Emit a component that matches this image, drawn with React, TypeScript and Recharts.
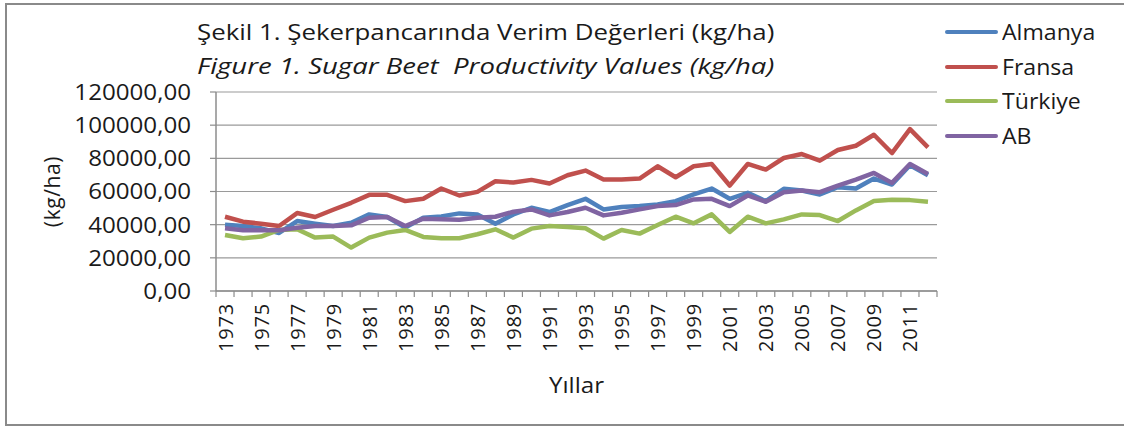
import React from "react";
import { LineChart, Line, XAxis, YAxis, CartesianGrid, Legend } from "recharts";

const years = [
  1973, 1974, 1975, 1976, 1977, 1978, 1979, 1980, 1981, 1982,
  1983, 1984, 1985, 1986, 1987, 1988, 1989, 1990, 1991, 1992,
  1993, 1994, 1995, 1996, 1997, 1998, 1999, 2000, 2001, 2002,
  2003, 2004, 2005, 2006, 2007, 2008, 2009, 2010, 2011, 2012,
];

const almanya = [
  40000, 39200, 37800, 35000, 42200, 40600, 39200, 41200, 46200, 44600,
  38200, 44200, 45000, 46800, 46200, 40600, 46200, 50200, 47600, 51800,
  55600, 49200, 50600, 51200, 52200, 54200, 58200, 61800, 55600, 59200,
  54200, 61600, 60600, 58200, 62600, 61800, 67800, 64200, 75800, 69800,
];

const fransa = [
  44800, 41800, 40600, 39200, 47000, 44600, 49000, 53200, 58000, 58000,
  54200, 55600, 61800, 57600, 59800, 66200, 65400, 67000, 64800, 69800,
  72600, 67200, 67200, 67800, 75200, 68600, 75200, 76600, 63600, 76600,
  73200, 80200, 82600, 78600, 85000, 87600, 94200, 83200, 97600, 86600,
];

const turkiye = [
  33800, 31800, 32800, 36800, 37200, 32200, 32800, 26200, 32200, 35200,
  36800, 32600, 31800, 31800, 34200, 37200, 32200, 37600, 39200, 38600,
  37800, 31600, 36800, 34600, 39800, 44800, 40800, 46200, 35600, 44800,
  40800, 43200, 46200, 45800, 42200, 48600, 54200, 55000, 54800, 53800,
];

const ab = [
  37800, 36600, 36600, 36600, 38200, 39200, 39200, 39600, 44200, 44600,
  39200, 43600, 43200, 43000, 44200, 44800, 47800, 49200, 45600, 47600,
  50200, 45600, 47200, 49200, 51200, 51800, 55200, 55600, 51200, 57600,
  53800, 59600, 60600, 59600, 63600, 67200, 71200, 65200, 76600, 70600,
];

const yTicks = [0, 20000, 40000, 60000, 80000, 100000, 120000];
const seriesNames = ["Almanya", "Fransa", "Türkiye", "AB"];
const seriesColors = ["#4F81BD", "#C0504D", "#9BBB59", "#8064A2"];
const titleLine1 = "Şekil 1. Şekerpancarında Verim Değerleri (kg/ha)";
const titleLine2 = "Figure 1. Sugar Beet  Productivity Values (kg/ha)";
const yAxisTitle = "(kg/ha)";
const xAxisTitle = "Yıllar";

const seriesValues = [almanya, fransa, turkiye, ab];
const data = years.map((y, i) => {
  const row: Record<string, number> = { year: y };
  seriesNames.forEach((n, k) => {
    row[n] = seriesValues[k][i];
  });
  return row;
});

const boundaryTicks = [...years.map((y) => y - 0.5), years[years.length - 1] + 0.5];
const labelYears = years.filter((_, i) => i % 2 === 0);
const xDomain = [years[0] - 0.5, years[years.length - 1] + 0.5];

const FONT = "'Open Sans', sans-serif";
const TEXT = "#1a1a1a";
const AXIS = "#8c8c8c";
const STRETCH = 1.15;

const fmt = (v: number) => v.toFixed(2).replace(".", ",");

const YearTick = (props: any) => {
  const { x, y, payload } = props;
  return (
    <text
      x={x}
      y={y}
      transform={`rotate(-90 ${x} ${y})`}
      textAnchor="end"
      dominantBaseline="central"
      fontFamily={FONT}
      fontSize={20}
      letterSpacing={0.8}
      fill={TEXT}
    >
      {payload.value}
    </text>
  );
};

const ValueTick = (props: any) => {
  const { x, y, payload } = props;
  return (
    <text
      x={x}
      y={y}
      transform={`translate(${x} ${y}) scale(${STRETCH} 1) translate(${-x} ${-y})`}
      textAnchor="end"
      dominantBaseline="central"
      fontFamily={FONT}
      fontSize={21}
      fill={TEXT}
    >
      {fmt(payload.value)}
    </text>
  );
};

const LegendContent = (props: any) => {
  const payload = [...(props.payload || [])].sort(
    (a: any, b: any) => seriesNames.indexOf(a.value) - seriesNames.indexOf(b.value)
  );
  return (
    <div>
      {payload.map((p: any) => (
        <div
          key={p.value}
          style={{ display: "flex", alignItems: "center", height: 34.5 }}
        >
          <div style={{ width: 53, height: 4, background: p.color, borderRadius: 2 }} />
          <span
            style={{
              marginLeft: 4,
              fontFamily: FONT,
              fontSize: 21,
              color: TEXT,
              lineHeight: "24px",
              display: "inline-block",
              transform: "scaleX(1.1)",
              transformOrigin: "left center",
              whiteSpace: "pre",
            }}
          >
            {p.value}
          </span>
        </div>
      ))}
    </div>
  );
};

const titleStyle: React.CSSProperties = {
  position: "absolute",
  left: 197,
  fontFamily: FONT,
  fontSize: 21,
  lineHeight: "26px",
  color: TEXT,
  whiteSpace: "pre",
  transformOrigin: "left center",
};

export default function App() {
  return (
    <div style={{ position: "absolute", left: 0, top: 0, width: 1124, height: 426, background: "#fff", overflow: "hidden" }}>
      <div
        style={{
          position: "absolute",
          left: 5,
          top: 3,
          width: 1130,
          height: 423,
          border: "2px solid #8a8a8a",
          boxSizing: "border-box",
        }}
      />
      <div style={{ ...titleStyle, top: 19, transform: "scaleX(1.23)" }}>{titleLine1}</div>
      <div style={{ ...titleStyle, top: 53, fontStyle: "italic", transform: "scaleX(1.31)" }}>{titleLine2}</div>
      <LineChart
        width={1124}
        height={426}
        data={data}
        margin={{ top: 92, right: 187, bottom: 0, left: 0 }}
        style={{ position: "absolute", left: 0, top: 0 }}
      >
        <CartesianGrid vertical={false} stroke="#9a9a9a" strokeWidth={1.2} />
        <XAxis
          xAxisId={0}
          dataKey="year"
          type="number"
          domain={xDomain}
          ticks={boundaryTicks}
          interval={0}
          allowDataOverflow
          tickFormatter={() => ""}
          tickSize={6}
          height={6}
          axisLine={{ stroke: AXIS, strokeWidth: 1.5 }}
          tickLine={{ stroke: AXIS, strokeWidth: 1.2 }}
        />
        <XAxis
          xAxisId="lab"
          dataKey="year"
          type="number"
          domain={xDomain}
          ticks={labelYears}
          interval={0}
          allowDataOverflow
          axisLine={false}
          tickLine={false}
          tickSize={0}
          tickMargin={6}
          height={129}
          tick={<YearTick />}
          label={{
            value: xAxisTitle,
            content: (p: any) => {
              const vb = p.viewBox || {};
              const cx = vb.x + vb.width / 2;
              const cy = vb.y + 88;
              return (
                <text
                  x={cx}
                  y={cy}
                  transform={`translate(${cx} ${cy}) scale(${STRETCH} 1) translate(${-cx} ${-cy})`}
                  textAnchor="middle"
                  dominantBaseline="central"
                  fontFamily={FONT}
                  fontSize={21}
                  fill={TEXT}
                >
                  {xAxisTitle}
                </text>
              );
            },
          }}
        />
        <YAxis
          domain={[0, 120000]}
          ticks={yTicks}
          interval={0}
          width={216}
          tickSize={6}
          tickMargin={19}
          axisLine={{ stroke: AXIS, strokeWidth: 1.5 }}
          tickLine={{ stroke: AXIS, strokeWidth: 1.2 }}
          tick={<ValueTick />}
          label={{
            value: yAxisTitle,
            content: (p: any) => {
              const vb = p.viewBox || {};
              const cx = vb.x + 52;
              const cy = vb.y + vb.height / 2;
              return (
                <text
                  x={cx}
                  y={cy}
                  transform={`rotate(-90 ${cx} ${cy})`}
                  textAnchor="middle"
                  dominantBaseline="central"
                  fontFamily={FONT}
                  fontSize={21}
                  letterSpacing={0.6}
                  fill={TEXT}
                >
                  {yAxisTitle}
                </text>
              );
            },
          }}
        />
        <Legend
          layout="vertical"
          verticalAlign="middle"
          align="center"
          content={<LegendContent />}
          wrapperStyle={{ position: "absolute", left: 945, top: 15, width: 170 }}
        />
        {seriesNames.map((n, k) => (
          <Line
            key={n}
            type="linear"
            dataKey={n}
            name={n}
            stroke={seriesColors[k]}
            strokeWidth={4.5}
            strokeLinejoin="round"
            dot={false}
            activeDot={false}
            isAnimationActive={false}
          />
        ))}
      </LineChart>
    </div>
  );
}
